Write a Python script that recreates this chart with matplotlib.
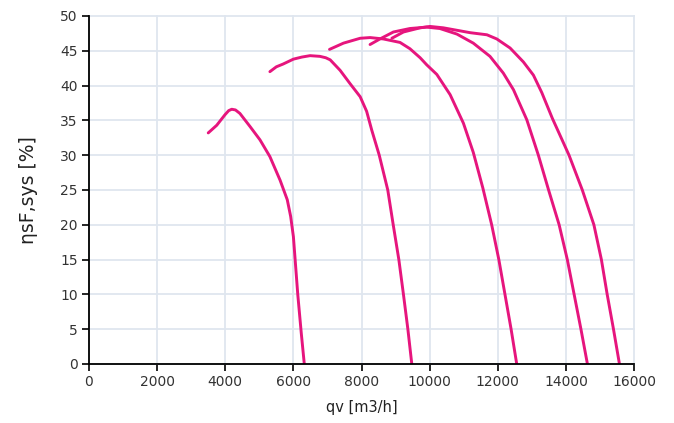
import numpy as np
import matplotlib.pyplot as plt

# fan curves: flow qv [m3/h] vs efficiency [%]
qv_1 = [3500, 3750, 3990, 4100, 4190, 4300, 4430, 4730, 5020, 5310, 5610, 5820, 5920, 6000, 6130, 6230, 6320]
eta_1 = [33.2, 34.3, 35.8, 36.4, 36.6, 36.5, 36.0, 34.1, 32.2, 29.8, 26.4, 23.6, 21.2, 18.3, 9.9, 4.5, 0.0]

qv_2 = [5310, 5500, 5700, 6000, 6250, 6490, 6780, 6950, 7080, 7370, 7660, 7960, 8150, 8300, 8520, 8770, 8930, 9095, 9230, 9360, 9475]
eta_2 = [42.0, 42.7, 43.1, 43.8, 44.1, 44.3, 44.2, 44.0, 43.7, 42.2, 40.3, 38.4, 36.3, 33.6, 30.0, 25.0, 20.0, 15.0, 10.0, 5.0, 0.0]

qv_3 = [7060, 7470, 7960, 8250, 8640, 9130, 9420, 9720, 9910, 10210, 10600, 10990, 11280, 11560, 11820, 12030, 12210, 12390, 12555]
eta_3 = [45.2, 46.1, 46.8, 46.9, 46.7, 46.2, 45.3, 44.0, 43.0, 41.6, 38.7, 34.6, 30.4, 25.3, 20.0, 15.0, 10.0, 5.0, 0.0]

qv_4 = [8250, 8540, 8935, 9420, 9910, 10300, 10800, 11280, 11770, 12160, 12460, 12850, 13190, 13490, 13800, 14040, 14240, 14440, 14630]
eta_4 = [45.9, 46.7, 47.7, 48.2, 48.4, 48.2, 47.4, 46.1, 44.2, 41.8, 39.4, 35.1, 30.0, 25.0, 20.0, 15.0, 10.0, 5.0, 0.0]

qv_5 = [8890, 9230, 9720, 10010, 10400, 11190, 11680, 11970, 12360, 12750, 13045, 13290, 13600, 13850, 14090, 14480, 14820, 15040, 15210, 15395, 15570]
eta_5 = [46.8, 47.7, 48.3, 48.5, 48.3, 47.6, 47.3, 46.7, 45.4, 43.4, 41.5, 39.0, 35.3, 32.6, 30.0, 25.0, 20.0, 15.0, 10.0, 5.0, 0.0]

curves = [(qv_1, eta_1), (qv_2, eta_2), (qv_3, eta_3), (qv_4, eta_4), (qv_5, eta_5)]

x_ticks = np.arange(0, 16001, 2000)
y_ticks = np.arange(0, 51, 5)

plt.rcParams['font.family'] = ['DejaVu Sans']

fig = plt.figure(figsize=(6.74, 4.23), dpi=100)
ax = fig.add_axes([0.132, 0.1395, 0.8088, 0.8227])

grid_col = '#dfe6ef'
ax.set_axisbelow(True)
ax.grid(True, color=grid_col, linewidth=1.3)
for gl in ax.get_xgridlines() + ax.get_ygridlines():
    gl.set_clip_on(False)

for qv, eta in curves:
    ax.plot(qv, eta, color='#e6157d', linewidth=2.1, solid_capstyle='round',
            solid_joinstyle='round')

ax.set_xlim(0, 16000)
ax.set_ylim(0, 50)
ax.set_xticks(x_ticks)
ax.set_yticks(y_ticks)

ax.spines['top'].set_visible(False)
ax.spines['right'].set_visible(False)
ax.spines['left'].set_linewidth(1.3)
ax.spines['bottom'].set_linewidth(1.3)
ax.tick_params(axis='both', direction='out', length=5, width=1.2,
               labelsize=10, colors='black', labelcolor='#333333', pad=3)

ax.set_xlabel('qv [m3/h]', fontsize=10.5, color='#222222', labelpad=8)
ax.set_ylabel('ηsF,sys [%]', fontsize=13.5, color='#222222', labelpad=16)

fig.savefig('out.png', dpi=100)
